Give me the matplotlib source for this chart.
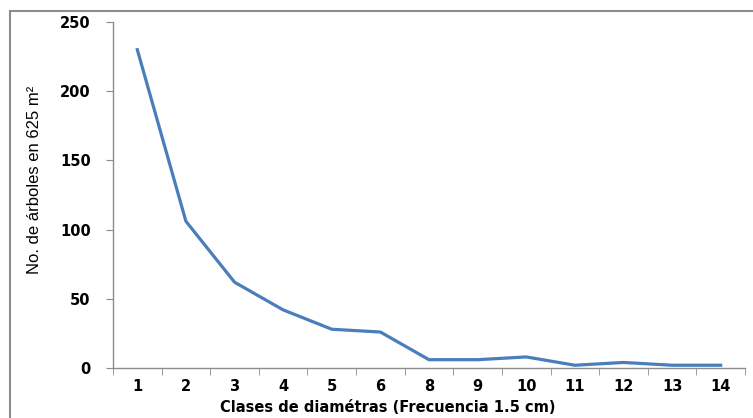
import matplotlib.pyplot as plt
import numpy as np
from matplotlib.patches import Rectangle

clases = ["1", "2", "3", "4", "5", "6", "8", "9", "10", "11", "12", "13", "14"]
arboles = [230, 106, 62, 42, 28, 26, 6, 6, 8, 2, 4, 2, 2]

W, H = 753, 418
fig = plt.figure(figsize=(W / 100, H / 100), dpi=100)
ax = fig.add_axes([113 / W, 1 - 368 / H, (745 - 113) / W, (368 - 22) / H])

# outer chart frame (runs off right and bottom edges)
fig.patches.append(Rectangle((10 / W, -0.05), 1.0, 1 - 11 / H + 0.05,
                             transform=fig.transFigure, fill=False,
                             edgecolor="#8c8c8c", lw=1.5))

n = len(clases)
x = np.arange(n)
ax.plot(x, arboles, color="#4a7ebb", lw=2.3, solid_joinstyle="round")

ax.set_xlim(-0.5, n - 0.5)
ax.set_ylim(0, 250)
ax.set_xticks(x)
ax.set_xticklabels(clases)
ax.set_xticks(np.arange(-0.5, n), minor=True)
ax.tick_params(axis="x", which="major", length=0, pad=8)
ax.tick_params(axis="x", which="minor", length=5, color="#8c8c8c")
ax.set_yticks([0, 50, 100, 150, 200, 250])
ax.tick_params(axis="y", length=5, color="#8c8c8c", pad=11)

for lab in ax.get_xticklabels() + ax.get_yticklabels():
    lab.set_fontweight("bold")
    lab.set_fontsize(10.5)
    lab.set_family("DejaVu Sans")

for s in ["top", "right"]:
    ax.spines[s].set_visible(False)
for s in ["left", "bottom"]:
    ax.spines[s].set_color("#8c8c8c")
    ax.spines[s].set_linewidth(1.0)

ax.set_xlabel("Clases de diamétras (Frecuencia 1.5 cm)", fontsize=10.5,
              fontweight="bold", family="DejaVu Sans")
ax.xaxis.set_label_coords((388 - 113) / 632, (368 - 400) / 346)
ax.set_ylabel("No. de árboles en 625 m²", fontsize=12,
              family=["Liberation Sans Narrow", "Liberation Sans", "DejaVu Sans"])
ax.yaxis.set_label_coords((42 - 113) / 632, (368 - 180) / 346)

fig.savefig("out.png", dpi=100)
